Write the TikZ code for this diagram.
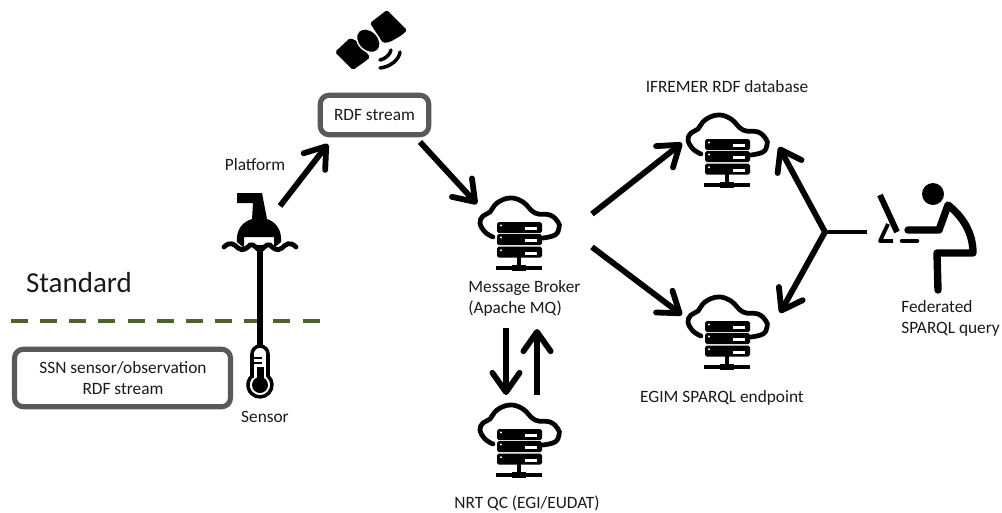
\documentclass[tikz,border=0pt]{standalone}
\usepackage{fontspec}
\setmainfont{Carlito}
\usetikzlibrary{arrows.meta,backgrounds}
\definecolor{dashgreen}{HTML}{4F6228}
\definecolor{boxgrey}{HTML}{595959}
\definecolor{txtgrey}{HTML}{1A1A1A}

\tikzset{
  lbl/.style={text=txtgrey,font=\fontsize{9.85}{11}\selectfont,inner sep=0pt},
  flow/.style={line width=3.3pt,-{Straight Barb[length=11pt,width=15.5pt,round]}},
  streambox/.style={draw=boxgrey,line width=2.9pt,rounded corners=5pt,fill=white},
  serverpic/.pic={
    \draw[line width=2.7pt,line cap=round] plot[smooth,tension=0.7] coordinates
      {(-26,39) (-34,34) (-39,25) (-36,18) (-29,14) (-22,5) (-9,0) (4,4) (16,15) (31,17) (39,24) (40,30) (36,37) (24,40)};
    \foreach \r in {24,36,48.7}{
      \fill[rounded corners=1pt] (-22,\r) rectangle (23,\r+11);
      \fill[white] (-18,\r+3.5) circle (1.2);
      \fill[white] (6,\r+5) rectangle (18,\r+8);
    }
    \draw[line width=2.5pt] (0,59) -- (0,70);
    \draw[line width=2.5pt] (-23,70) -- (23,70);
    \draw[line width=3.6pt] (-7,70) -- (7,70);
  }
}

\begin{document}
\begin{tikzpicture}[x=0.02cm,y=-0.02cm]
  \useasboundingbox (0,0) rectangle (1002,512);

  % boxes and labels
  \node[streambox,minimum width=2.17cm,minimum height=0.79cm] (rdfbox) at (374.5,115) {};
  \node[lbl] (rdflbl) at (374.5,115) {RDF stream};
  \node[streambox,minimum width=4.32cm,minimum height=1.15cm] (ssnbox) at (122.5,378) {};
  \node[lbl] (ssnlbl1) at (123,368) {SSN sensor/observation};
  \node[lbl] (ssnlbl2) at (123,389) {RDF stream};
  \node[lbl,font=\fontsize{16.5}{18}\selectfont] (stdlbl) at (79,283) {Standard};
  \node[lbl] (platlbl) at (255,165) {Platform};
  \node[lbl] (senslbl) at (265,417) {Sensor};
  \node[lbl,anchor=west] (brokerlbl1) at (468,288) {Message Broker};
  \node[lbl,anchor=west] (brokerlbl2) at (468,309) {(Apache MQ)};
  \node[lbl] (ifrlbl) at (727,87) {IFREMER RDF database};
  \node[lbl] (egimlbl) at (722,398) {EGIM SPARQL endpoint};
  \node[lbl] (nrtlbl) at (527,503) {NRT QC (EGI/EUDAT)};
  \node[lbl,anchor=west] (fedlbl1) at (901,307) {Federated};
  \node[lbl,anchor=west] (fedlbl2) at (901,329) {SPARQL query};

  % servers
  \pic at (519,198) {serverpic};
  \pic at (727,115) {serverpic};
  \pic at (727,297) {serverpic};
  \pic at (519,405) {serverpic};

  \draw[dashgreen,line width=2.3pt,dash pattern=on 9.6pt off 7pt] (11,321) -- (320,321);

  % buoy
  \draw[line width=3pt] (260,245) -- (260,346);
  \fill (237,193) -- (262,193) -- (267,219) .. controls (276,222) and (282,230) .. (281,242)
    -- (274,248) -- (274,237) -- (244,237) -- (244,248) -- (237,242)
    .. controls (236,230) and (242,222) .. (252,219) -- (253,203) -- (237,203) -- cycle;
  \draw[line width=2.7pt,line cap=round] (224,247) .. controls (230,241) and (234,244) .. (238,248)
    .. controls (243,252) and (247,248) .. (250,245) .. controls (254,243) and (257,250) .. (260,250)
    .. controls (263,250) and (266,243) .. (270,245) .. controls (273,248) and (277,252) .. (282,248)
    .. controls (286,244) and (290,241) .. (296,247);

  % thermometer
  \draw[line width=2pt,fill=white] (252,376) -- (252,354) arc[start angle=180,end angle=360,radius=8]
    -- (268,376) arc[start angle=-48,end angle=228,radius=12] -- cycle;
  \draw[line width=1pt] (253,358) -- (262,358) (253,363) -- (262,363);
  \fill (256.5,367) rectangle (263.5,385);
  \fill (260,385) circle (8);

  % satellite
  \fill[rounded corners=1pt] (335,52) -- (350,38) -- (357,41) -- (370,57) -- (367,60) -- (353,70) -- cycle;
  \fill[rounded corners=1pt] (370,23) -- (387,10) -- (407,30) -- (402,35) -- (390,42) -- (383,43) -- cycle;
  \fill[rotate around={-45:(368.3,40.7)},draw=white,line width=0.8pt] (368.3,40.7) ellipse (13.5 and 10);
  \draw[line width=2pt,line cap=round] (380,60) .. controls (385,59) and (390,55) .. (391,50);
  \draw[line width=2pt,line cap=round] (380,68) .. controls (390,67) and (399,60) .. (400,52);

  % person
  \fill (933,194) circle (11);
  \draw[line width=4.2pt,line cap=round,line join=round] (908,230) -- (939,230) -- (948,205)
    .. controls (962,216) and (973,232) .. (973,253) -- (937,253) -- (938,290);
  \draw[line width=3.4pt] (880,195) -- (897,232);
  \draw[line width=2.2pt,line join=round] (888,224) -- (880,241) -- (893,241);
  \draw[line width=2.6pt,line cap=round] (902,241) -- (917,241);

  % connectors
  \coordinate (platout) at (280,206);
  \coordinate (rdfin) at (328,144);
  \coordinate (rdfout) at (420,142);
  \coordinate (brokerin) at (477,204);
  \coordinate (brokerup) at (592,214);
  \coordinate (brokerdn) at (592,247);
  \coordinate (ifrin) at (682,143);
  \coordinate (egimin) at (682,315);
  \coordinate (ifrinr) at (779,147);
  \coordinate (egiminr) at (780,313);
  \coordinate (fork) at (825,232);
  \coordinate (userout) at (867,232);
  \coordinate (downtop) at (506,328);
  \coordinate (downend) at (506,395);
  \coordinate (upbot) at (537,395);
  \coordinate (uptop) at (537,329);

  \draw[flow] (platout) -- (rdfin);
  \draw[flow] (rdfout) -- (brokerin);
  \draw[flow] (brokerup) -- (ifrin);
  \draw[flow] (brokerdn) -- (egimin);
  \draw[flow] (downtop) -- (downend);
  \draw[flow] (upbot) -- (uptop);
  \draw[line width=2.8pt] (userout) -- (fork);
  \draw[flow] (fork) -- (ifrinr);
  \draw[flow] (fork) -- (egiminr);
\end{tikzpicture}
\end{document}
